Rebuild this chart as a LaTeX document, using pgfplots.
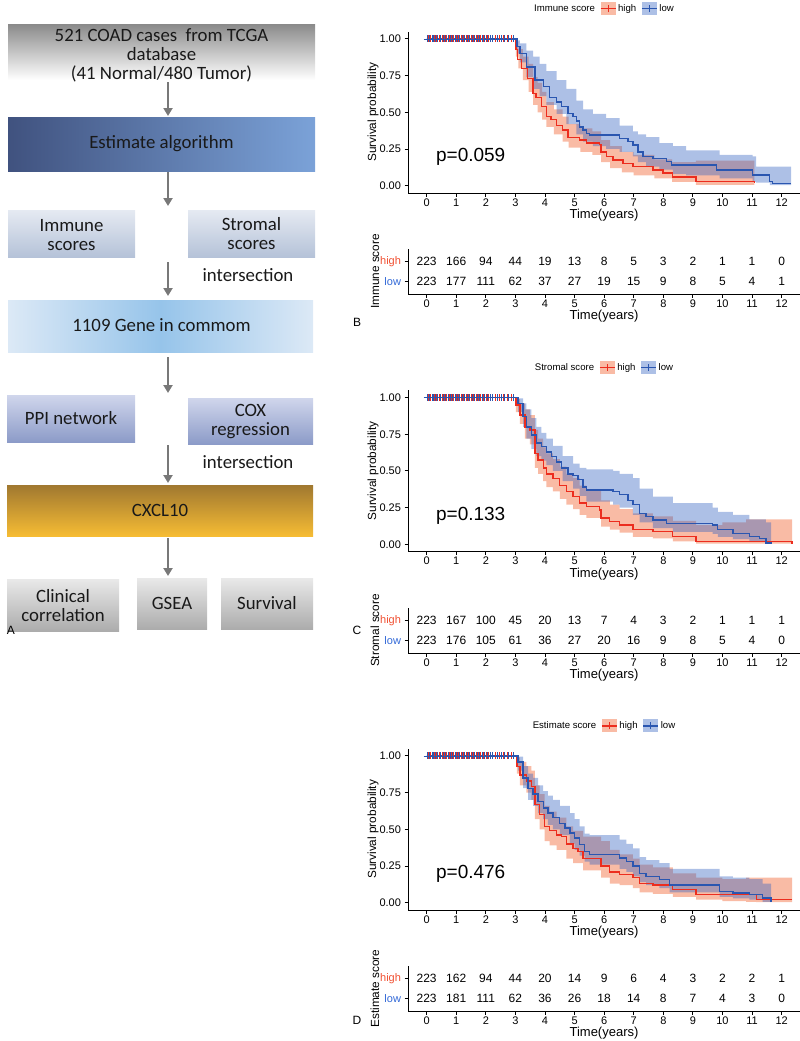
\documentclass[border=0pt]{standalone}
\usepackage{pgfplots}
\pgfplotsset{compat=1.18}
\usepackage{pgfplotstable}
\usepgfplotslibrary{fillbetween}
\usetikzlibrary{arrows.meta}
\usepackage{fontspec}
\setmainfont{Liberation Sans}
\newfontfamily\flowfont{Carlito}

\definecolor{kmred}{RGB}{236,45,30}
\definecolor{kmblue}{RGB}{42,86,176}
\definecolor{bandred}{RGB}{240,85,30}
\definecolor{bandblue}{RGB}{50,97,192}
\definecolor{labred}{RGB}{240,80,50}
\definecolor{labblue}{RGB}{50,105,215}
\definecolor{arrowgray}{RGB}{120,120,120}
\definecolor{bAtop}{RGB}{140,140,140}
\definecolor{bBleft}{RGB}{64,82,127}
\definecolor{bBright}{RGB}{123,162,216}
\definecolor{bCtop}{RGB}{229,234,242}
\definecolor{bCbot}{RGB}{181,194,216}
\definecolor{bDout}{RGB}{220,233,246}
\definecolor{bDin}{RGB}{150,196,234}
\definecolor{bEtop}{RGB}{208,214,236}
\definecolor{bEbot}{RGB}{140,155,200}
\definecolor{bFtop}{RGB}{160,120,48}
\definecolor{bFmid}{RGB}{215,160,45}
\definecolor{bFbot}{RGB}{246,188,52}
\definecolor{bGtop}{RGB}{233,233,233}
\definecolor{bGbot}{RGB}{172,172,172}

% ---------- censoring marks (all at S = 1) ----------
\pgfplotstableread{
t s
0.05 1
0.14 1
0.26 1
0.34 1
0.42 1
0.52 1
0.60 1
0.68 1
0.77 1
0.84 1
0.92 1
1.01 1
1.08 1
1.17 1
1.24 1
1.33 1
1.42 1
1.51 1
1.58 1
1.67 1
1.75 1
1.83 1
1.92 1
2.01 1
2.10 1
2.33 1
2.47 1
2.58 1
2.72 1
2.86 1
}\censR
\pgfplotstableread{
t s
0.02 1
0.09 1
0.18 1
0.22 1
0.30 1
0.38 1
0.46 1
0.55 1
0.63 1
0.72 1
0.80 1
0.88 1
0.96 1
1.04 1
1.12 1
1.20 1
1.28 1
1.37 1
1.46 1
1.54 1
1.62 1
1.71 1
1.79 1
1.87 1
1.96 1
2.05 1
2.14 1
2.22 1
2.40 1
2.52 1
2.64 1
2.78 1
2.93 1
}\censB

% ---------- panel B: immune score ----------
\pgfplotstableread{
t s
0 1
3.02 0.93
3.08 0.86
3.20 0.80
3.40 0.73
3.60 0.63
3.70 0.60
3.88 0.54
4.05 0.47
4.20 0.45
4.39 0.41
4.60 0.38
4.78 0.33
5.17 0.31
5.40 0.29
5.85 0.28
5.90 0.23
6.07 0.20
6.30 0.175
6.64 0.15
6.97 0.13
7.65 0.107
7.99 0.085
8.32 0.06
9.11 0.027
11.08 0.017
}\BH
\pgfplotstableread{
t s
0 1
3.05 0.95
3.15 0.90
3.37 0.81
3.66 0.72
3.94 0.675
4.16 0.60
4.39 0.57
4.56 0.54
4.78 0.49
4.95 0.47
5.06 0.44
5.17 0.40
5.29 0.38
5.40 0.357
5.51 0.345
6.52 0.32
6.80 0.30
6.97 0.277
7.14 0.23
7.31 0.20
7.65 0.186
8.10 0.164
8.27 0.14
9.79 0.107
11.02 0.073
11.59 0.027
11.70 0.016
12.32 0.016
}\BL
\pgfplotstableread{
t lo hi
0 1 1
3.02 0.88 0.98
3.10 0.80 0.93
3.25 0.72 0.88
3.45 0.64 0.83
3.60 0.55 0.74
3.75 0.50 0.70
3.90 0.45 0.64
4.05 0.40 0.57
4.30 0.35 0.52
4.60 0.30 0.47
4.80 0.26 0.42
5.20 0.23 0.39
5.60 0.21 0.37
5.90 0.16 0.31
6.20 0.12 0.27
6.60 0.09 0.23
7.00 0.07 0.21
7.70 0.05 0.18
8.30 0.025 0.16
9.10 0.005 0.17
11.08 0.005 0.17
}\BbH
\pgfplotstableread{
t lo hi
0 1 1
3.05 0.90 0.99
3.15 0.84 0.97
3.37 0.74 0.92
3.60 0.66 0.88
3.82 0.61 0.83
4.05 0.55 0.78
4.39 0.49 0.72
4.72 0.42 0.66
5.06 0.35 0.58
5.29 0.30 0.52
5.62 0.27 0.49
6.07 0.25 0.46
6.52 0.23 0.41
6.97 0.20 0.37
7.14 0.16 0.35
7.42 0.13 0.33
7.87 0.11 0.29
8.32 0.08 0.27
8.77 0.07 0.24
9.90 0.05 0.21
11.02 0.025 0.20
11.14 0.02 0.13
11.60 0.003 0.13
12.32 0.003 0.13
}\BbL
\pgfplotstableread{
t high low
0 223 223
1 166 177
2 94 111
3 44 62
4 19 37
5 13 27
6 8 19
7 5 15
8 3 9
9 2 8
10 1 5
11 1 4
12 0 1
}\BR

% ---------- panel C: stromal score ----------
\pgfplotstableread{
t s
0 1
3.02 0.95
3.15 0.88
3.32 0.80
3.49 0.78
3.66 0.62
3.77 0.575
3.94 0.52
4.05 0.48
4.27 0.45
4.50 0.40
4.72 0.36
4.95 0.325
5.17 0.28
5.40 0.257
5.85 0.234
5.90 0.18
6.19 0.155
6.52 0.13
6.97 0.10
7.65 0.086
8.32 0.052
9.11 0.02
12.35 0.005
}\CH
\pgfplotstableread{
t s
0 1
3.09 0.96
3.26 0.87
3.37 0.80
3.54 0.745
3.71 0.69
3.88 0.665
4.05 0.63
4.22 0.60
4.39 0.56
4.56 0.52
4.78 0.48
4.95 0.47
5.12 0.44
5.29 0.39
5.40 0.37
6.30 0.36
6.52 0.34
6.80 0.30
6.97 0.27
7.20 0.21
7.42 0.19
7.65 0.166
8.10 0.14
9.67 0.13
9.84 0.10
10.35 0.075
10.91 0.052
11.25 0.04
11.47 0.01
11.64 0.005
}\CL
\pgfplotstableread{
t lo hi
0 1 1
3.02 0.90 0.99
3.15 0.82 0.96
3.32 0.72 0.92
3.49 0.68 0.88
3.66 0.52 0.78
3.77 0.48 0.72
3.94 0.43 0.66
4.05 0.39 0.62
4.27 0.36 0.58
4.50 0.31 0.53
4.72 0.27 0.48
4.95 0.24 0.45
5.17 0.20 0.40
5.40 0.18 0.37
5.90 0.12 0.30
6.19 0.10 0.27
6.52 0.08 0.24
6.97 0.05 0.21
7.65 0.04 0.19
8.32 0.02 0.16
9.11 0.004 0.13
10.00 0.004 0.15
10.80 0.004 0.17
12.35 0.004 0.17
}\CbH
\pgfplotstableread{
t lo hi
0 1 1
3.09 0.90 0.995
3.26 0.80 0.96
3.37 0.72 0.92
3.54 0.65 0.86
3.71 0.60 0.80
3.88 0.57 0.76
4.05 0.54 0.72
4.27 0.50 0.67
4.60 0.43 0.60
4.95 0.38 0.55
5.17 0.33 0.52
5.40 0.29 0.51
6.30 0.27 0.50
6.52 0.25 0.48
6.97 0.20 0.45
7.20 0.15 0.38
7.65 0.11 0.325
8.32 0.085 0.28
9.67 0.07 0.25
9.84 0.05 0.22
10.35 0.035 0.20
10.91 0.02 0.17
11.47 0.002 0.15
11.64 0.002 0.15
}\CbL
\pgfplotstableread{
t high low
0 223 223
1 167 176
2 100 105
3 45 61
4 20 36
5 13 27
6 7 20
7 4 16
8 3 9
9 2 8
10 1 5
11 1 4
12 1 0
}\CR

% ---------- panel D: estimate score ----------
\pgfplotstableread{
t s
0 1
3.05 0.93
3.15 0.87
3.37 0.83
3.54 0.79
3.66 0.67
3.82 0.60
3.99 0.52
4.16 0.49
4.39 0.46
4.56 0.45
4.72 0.40
4.95 0.37
5.12 0.35
5.29 0.30
5.90 0.25
6.19 0.21
6.52 0.19
6.97 0.17
7.20 0.13
7.65 0.12
8.32 0.09
9.11 0.055
11.14 0.02
12.35 0.02
}\DH
\pgfplotstableread{
t s
0 1
3.09 0.96
3.26 0.85
3.43 0.78
3.60 0.74
3.77 0.69
3.94 0.645
4.10 0.61
4.27 0.58
4.50 0.54
4.67 0.51
4.84 0.475
5.00 0.44
5.17 0.395
5.34 0.35
5.51 0.33
6.52 0.305
6.75 0.28
6.97 0.25
7.20 0.20
7.42 0.18
7.87 0.157
8.21 0.12
9.90 0.077
10.35 0.066
10.91 0.055
11.36 0.032
11.64 0.005
}\DL
\pgfplotstableread{
t lo hi
0 1 1
3.05 0.88 0.99
3.15 0.80 0.96
3.37 0.75 0.93
3.54 0.70 0.90
3.66 0.57 0.80
3.82 0.50 0.74
3.99 0.42 0.66
4.16 0.39 0.62
4.39 0.36 0.58
4.72 0.30 0.52
4.95 0.27 0.49
5.29 0.22 0.45
5.90 0.17 0.42
6.19 0.13 0.36
6.52 0.12 0.33
6.97 0.10 0.30
7.20 0.07 0.26
7.65 0.06 0.24
8.32 0.04 0.20
9.11 0.02 0.17
10.00 0.01 0.16
10.80 0.005 0.17
11.14 0.003 0.17
12.35 0.003 0.17
}\DbH
\pgfplotstableread{
t lo hi
0 1 1
3.09 0.90 0.995
3.26 0.78 0.93
3.43 0.70 0.88
3.60 0.66 0.85
3.77 0.61 0.80
3.94 0.57 0.76
4.10 0.53 0.73
4.27 0.50 0.70
4.50 0.46 0.66
4.84 0.40 0.61
5.00 0.36 0.57
5.17 0.32 0.52
5.34 0.28 0.47
5.51 0.26 0.46
6.52 0.23 0.43
6.75 0.21 0.40
6.97 0.18 0.37
7.20 0.14 0.31
7.42 0.12 0.29
7.87 0.10 0.27
8.21 0.07 0.23
9.90 0.04 0.18
10.35 0.03 0.17
10.91 0.02 0.16
11.36 0.005 0.13
11.64 0.005 0.13
}\DbL
\pgfplotstableread{
t high low
0 223 223
1 162 181
2 94 111
3 44 62
4 20 36
5 14 26
6 9 18
7 6 14
8 4 8
9 3 7
10 2 4
11 2 3
12 1 0
}\DR

\pgfplotsset{
  kmbase/.style={
    scale only axis, width=392pt,
    xmin=-0.63, xmax=12.62,
    axis x line*=bottom, axis y line*=left,
    axis line style={line width=1pt,-},
    tick align=outside, major tick length=3.5pt,
    tick style={line width=0.9pt,black},
    xtick={0,1,...,12},
    ticklabel style={font=\fontsize{11}{13}\selectfont},
    xticklabel style={yshift=1.5pt},
    /pgf/number format/assume math mode=true,
    xlabel={Time(years)},
    xlabel style={font=\fontsize{13}{15}\selectfont, yshift=4pt},
    ylabel style={font=\fontsize{11.8}{14}\selectfont, yshift=-6pt},
  },
  kmmain/.style={kmbase,
    height=161.4pt, ymin=-0.05, ymax=1.05,
    ytick={0,0.25,0.5,0.75,1},
    yticklabel style={/pgf/number format/.cd, fixed, fixed zerofill, precision=2},
    ylabel={Survival probability},
    legend columns=-1,
    legend style={at={(0.5,1)}, anchor=center, yshift=22.7pt, draw=none, fill=none,
      font=\fontsize{9.6}{11}\selectfont,
      /tikz/every even column/.append style={column sep=3pt}},
  },
  kmrisk/.style={kmbase,
    height=45pt, ymin=0.4, ymax=2.6, clip=false,
    ytick={1,2},
    yticklabels={{\textcolor{labblue}{low}},{\textcolor{labred}{high}}},
  },
  keyred/.style={legend image code/.code={
      \path[fill=bandred, fill opacity=0.4, draw=none] (0pt,-6.5pt) rectangle (15pt,6.5pt);
      \path[draw=kmred, line width=1.2pt] (0pt,0pt)--(15pt,0pt);
      \path[draw=kmred, line width=1pt] (7.5pt,-3.5pt)--(7.5pt,3.5pt);}},
  keyblue/.style={legend image code/.code={
      \path[fill=bandblue, fill opacity=0.4, draw=none] (0pt,-6.5pt) rectangle (15pt,6.5pt);
      \path[draw=kmblue, line width=1.2pt] (0pt,0pt)--(15pt,0pt);
      \path[draw=kmblue, line width=1pt] (7.5pt,-3.5pt)--(7.5pt,3.5pt);}},
  kmline/.style={const plot, line width=1.4pt, forget plot},
  cens/.style={only marks, mark=+, mark size=3.5pt, line width=0.8pt, forget plot},
  riskrow/.style={only marks, mark size=0pt, forget plot, nodes near coords,
      point meta=explicit symbolic, nodes near coords align=center,
      every node near coord/.append style={font=\fontsize{12}{14}\selectfont, text=black, anchor=center}},
}

% one KM panel: #1 high line, #2 low line, #3 high band, #4 low band, #5 name prefix
\newcommand{\kmcurves}[5]{%
  \addplot[name path=#5hh, draw=none, const plot, forget plot] table[x=t,y=hi]{#3};
  \addplot[name path=#5hl, draw=none, const plot, forget plot] table[x=t,y=lo]{#3};
  \addplot[fill=bandred, fill opacity=0.4, draw=none, forget plot] fill between[of=#5hh and #5hl];
  \addplot[name path=#5lh, draw=none, const plot, forget plot] table[x=t,y=hi]{#4};
  \addplot[name path=#5ll, draw=none, const plot, forget plot] table[x=t,y=lo]{#4};
  \addplot[fill=bandblue, fill opacity=0.4, draw=none, forget plot] fill between[of=#5lh and #5ll];
  \addplot[kmline, kmred] table[x=t,y=s]{#1};
  \addplot[kmline, kmblue] table[x=t,y=s]{#2};
  \addplot[cens, kmred] table[x=t,y=s]{\censR};
  \addplot[cens, kmblue] table[x=t,y=s]{\censB};
}

\begin{document}
\begin{tikzpicture}

% ================= Panel A: flowchart =================
\begin{scope}[x=1pt,y=-1pt, every node/.style={font=\flowfont\fontsize{18.8}{19}\selectfont, align=center, text=black!90}]
  \shade[top color=bAtop, bottom color=white] (8,25) rectangle (315,80);
  \node at (161.5,55) {521 COAD cases\ \ from TCGA\\database\\(41 Normal/480 Tumor)};
  \shade[left color=bBleft, right color=bBright] (8,117) rectangle (315,171);
  \node at (161.5,144) {Estimate algorithm};
  \shade[top color=bCtop, bottom color=bCbot] (8,210) rectangle (135,257);
  \node at (71.5,235) {Immune\\scores};
  \shade[top color=bCtop, bottom color=bCbot] (188,210) rectangle (315,257);
  \node at (251.5,234) {Stromal\\scores};
  \node at (248,275) {intersection};
  \shade[left color=bDout, right color=bDout, middle color=bDin] (8,300) rectangle (313,352);
  \node at (161.5,325) {1109 Gene in commom};
  \shade[top color=bEtop, bottom color=bEbot] (7,395) rectangle (135,442);
  \node at (71,418) {PPI network};
  \shade[top color=bEtop, bottom color=bEbot] (188,398) rectangle (313,444);
  \node at (250.5,422) {COX\\regression};
  \node at (248,462) {intersection};
  \shade[top color=bFtop, middle color=bFmid, bottom color=bFbot] (7,485) rectangle (313,536);
  \node at (160,510) {CXCL10};
  \shade[top color=bGtop, bottom color=bGbot] (7,579) rectangle (119,631);
  \node at (63,606) {Clinical\\correlation};
  \shade[top color=bGtop, bottom color=bGbot] (137,578) rectangle (207,629);
  \node at (172,603) {GSEA};
  \shade[top color=bGtop, bottom color=bGbot] (221,578) rectangle (313,629);
  \node at (267,603) {Survival};
  \foreach \ya/\yb in {82/116, 172/206, 262/296, 357/393, 445/483, 538/576}
    \draw[arrowgray, line width=2.5pt, -{Triangle[length=8pt,width=9pt]}] (168,\ya) -- (168,\yb);
\end{scope}
\node[font=\fontsize{12}{14}\selectfont] at (11pt,-630pt) {A};
\node[font=\fontsize{12}{14}\selectfont] at (357pt,-322pt) {B};
\node[font=\fontsize{12}{14}\selectfont] at (357pt,-630pt) {C};
\node[font=\fontsize{12}{14}\selectfont] at (357pt,-1020pt) {D};

% ================= Panel B =================
\begin{axis}[kmmain, at={(408pt,-193pt)}, anchor=south west]
  \kmcurves{\BH}{\BL}{\BbH}{\BbL}{B}
  \node[anchor=west, font=\fontsize{19}{21}\selectfont] at (axis cs:0.2,0.195) {p=0.059};
  \addlegendimage{empty legend}\addlegendentry{Immune score}
  \addlegendimage{keyred}\addlegendentry{high}
  \addlegendimage{keyblue}\addlegendentry{low}
\end{axis}
\begin{axis}[kmrisk, at={(408pt,-294pt)}, anchor=south west, ylabel={Immune score}]
  \addplot[riskrow] table[x=t, y expr=2, meta=high]{\BR};
  \addplot[riskrow] table[x=t, y expr=1, meta=low]{\BR};
\end{axis}

% ================= Panel C =================
\begin{axis}[kmmain, at={(408pt,-551.6pt)}, anchor=south west]
  \kmcurves{\CH}{\CL}{\CbH}{\CbL}{C}
  \node[anchor=west, font=\fontsize{19}{21}\selectfont] at (axis cs:0.2,0.195) {p=0.133};
  \addlegendimage{empty legend}\addlegendentry{Stromal score}
  \addlegendimage{keyred}\addlegendentry{high}
  \addlegendimage{keyblue}\addlegendentry{low}
\end{axis}
\begin{axis}[kmrisk, at={(408pt,-653pt)}, anchor=south west, ylabel={Stromal score}]
  \addplot[riskrow] table[x=t, y expr=2, meta=high]{\CR};
  \addplot[riskrow] table[x=t, y expr=1, meta=low]{\CR};
\end{axis}

% ================= Panel D =================
\begin{axis}[kmmain, at={(408pt,-910pt)}, anchor=south west]
  \kmcurves{\DH}{\DL}{\DbH}{\DbL}{D}
  \node[anchor=west, font=\fontsize{19}{21}\selectfont] at (axis cs:0.2,0.195) {p=0.476};
  \addlegendimage{empty legend}\addlegendentry{Estimate score}
  \addlegendimage{keyred}\addlegendentry{high}
  \addlegendimage{keyblue}\addlegendentry{low}
\end{axis}
\begin{axis}[kmrisk, at={(408pt,-1011pt)}, anchor=south west, ylabel={Estimate score}]
  \addplot[riskrow] table[x=t, y expr=2, meta=high]{\DR};
  \addplot[riskrow] table[x=t, y expr=1, meta=low]{\DR};
\end{axis}
\pgfresetboundingbox
\path (0pt,0pt) rectangle (800pt,-1041pt);
\end{tikzpicture}
\end{document}
